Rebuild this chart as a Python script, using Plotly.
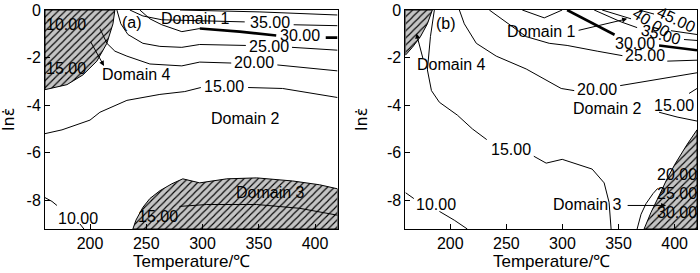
import plotly.graph_objects as go

FONT = "Arial, Liberation Sans, sans-serif"
T_RANGE = [160, 420]
LNE_RANGE = [-9.21, 0.0005]
x_ticks = [200, 250, 300, 350, 400]
y_ticks = [0, -2, -4, -6, -8]
y_tick_text = ["0", "-2", "-4", "-6", "-8"]

# ---------------- panel (a) ----------------
a40_T = [280, 351, 420];                              a40_y = [0, -0.08, -0.21]
a35_T1 = [235.4, 247, 263.8, 297.5, 337.5];           a35_y1 = [0, -0.25, -0.41, -0.45, -0.50]
a35_T2 = [381, 420];                                  a35_y2 = [-0.62, -0.66]
a30_T1 = [244.3, 253.2, 263.8, 281.6, 297.5];         a30_y1 = [0, -0.37, -0.62, -0.91, -0.78]
a30_T2 = [297.5, 333.0, 365.5];                       a30_y2 = [-0.78, -0.91, -1.07]
a30_T3 = [409.5, 420];                                a30_y3 = [-1.16, -1.16]
a25_T1 = [223.9, 227.4, 233.7, 247.0, 262.1, 281.6, 297.5, 338.5]
a25_y1 = [0, -0.58, -1.03, -1.40, -1.53, -1.57, -1.45, -1.49]
a25_T2 = [379.5, 420];                                a25_y2 = [-1.57, -1.69]
a20_T1 = [208.8, 215, 222.1, 232.8, 253.2, 281.6, 297.5, 325.5]
a20_y1 = [-0.78, -1.40, -1.73, -1.94, -2.27, -2.35, -2.19, -2.23]
a20_T2 = [366.5, 420];                                a20_y2 = [-2.31, -2.56]
a15_T1 = [160, 175.1, 200.0, 208.8, 232.8, 262.1, 284.2, 298.5]
a15_y1 = [-5.20, -5.04, -4.63, -4.30, -3.80, -3.55, -3.43, -3.26]
a15_T2 = [340.5, 371.2, 420];                         a15_y2 = [-3.26, -3.30, -3.68]
a10_T1 = [160, 166.2, 170.6];                         a10_y1 = [-7.89, -8.05, -8.22]
a10_T2 = [191.1, 194.6];                              a10_y2 = [-9.0, -9.21]
a15b_T = [279.5, 303.8, 348.1, 386.3, 420];           a15b_y = [-8.26, -8.18, -8.18, -8.34, -8.63]

a_d4_T = [160, 160, 179.5, 193.7, 206.1, 215.0, 220.4, 222.1, 160]
a_d4_y = [0, -3.35, -3.14, -2.73, -2.15, -1.40, -0.58, 0, 0]
a_d3_T = [238.1, 240.8, 247.0, 253.2, 262.1, 272.7, 282.5, 290.5, 297.5, 321.5, 348.1, 380.1, 404.0, 420, 420, 238.1]
a_d3_y = [-9.21, -8.84, -8.30, -7.93, -7.60, -7.31, -7.10, -7.19, -7.27, -7.10, -7.06, -7.19, -7.35, -7.52, -9.21, -9.21]

a_labels = [
    ("(a)", 237.2, -0.54, 0), ("Domain 1", 294.0, -0.37, 0), ("Domain 4", 241.6, -2.73, 0),
    ("Domain 2", 338.4, -4.58, 0), ("Domain 3", 360.6, -7.68, 0),
    ("10.00", 178.6, -0.62, 0), ("15.00", 178.6, -2.48, 0),
    ("35.00", 359.7, -0.54, 0), ("30.00", 386.3, -1.07, 0), ("25.00", 358.8, -1.53, 0),
    ("20.00", 345.5, -2.19, 0), ("15.00", 318.9, -3.22, 0), ("10.00", 189.3, -8.76, 0),
    ("15.00", 260.3, -8.67, 0),
]
a_arrows = [((199.9, -1.28), (212.4, -2.35))]

# ---------------- panel (b) ----------------
b45_T = [368.4, 381.7];                               b45_y = [0, -0.17]
b40_T1 = [335.4, 361.2];                              b40_y1 = [0, -0.37]
b40_T2 = [396.8, 420];                                b40_y2 = [-0.87, -1.03]
b35_T1 = [328.3, 352.3, 366.6];                       b35_y1 = [0, -0.50, -0.74]
b35_T2 = [408.4, 420];                                b35_y2 = [-1.24, -1.28]
b30v_T = [264.2, 283.8, 299.8];                       b30v_y = [0, -0.33, 0]
b30_T1 = [304.2, 346.5];                              b30_y1 = [0, -1.04]
b30_T2 = [386.2, 420];                                b30_y2 = [-1.49, -1.69]
b25_T1 = [234.8, 249.9, 267.7, 288.2, 304.2, 331.0, 353.5]
b25_y1 = [0, -0.50, -1.12, -1.40, -1.49, -1.73, -1.92]
b25_T2 = [393.5, 420];                                b25_y2 = [-2.15, -2.11]
b20_T1 = [208.1, 212.5, 223.2, 241.0, 267.7, 288.2, 298.9, 310.5]
b20_y1 = [0, -0.58, -1.40, -1.94, -2.48, -3.01, -3.30, -3.39]
b20_T2 = [351.5, 420];                                b20_y2 = [-3.18, -2.64]
b15_T1 = [185.8, 182.3, 179.6, 183.2, 190.3, 206.3, 219.7, 232.5]
b15_y1 = [0, -1.12, -2.52, -3.39, -3.88, -4.42, -5.0, -5.45]
b15_T2 = [274.5, 285.5, 299.8, 326.5, 337.2, 341.6, 343.4]
b15_y2 = [-6.15, -6.44, -6.28, -6.69, -7.27, -8.09, -9.21]
b15r_T1 = [420, 412.9];                               b15r_y1 = [-3.30, -3.51]
b15r_T2 = [386.2, 402.2, 420];                        b15r_y2 = [-4.30, -4.50, -4.67]
b10_T1 = [160, 167.5];                                b10_y1 = [-7.68, -7.93]
b10_T2 = [190.3, 203.6, 215.2];                       b10_y2 = [-8.47, -8.84, -9.21]
b20r_T = [366.6, 370.1, 374.6, 380.8, 385.0];         b20r_y = [-9.21, -8.59, -8.14, -7.72, -7.50]

b_d4_T = [160, 184.0, 179.6, 173.4, 166.2, 160, 160]
b_d4_y = [0, 0, -0.58, -1.12, -1.57, -1.90, 0]
b_d3_T = [372.8, 379.0, 386.2, 393.3, 400.4, 411.1, 420, 420, 372.8]
b_d3_y = [-9.21, -8.51, -7.81, -7.10, -6.48, -5.66, -5.04, -9.21, -9.21]

b_labels = [
    ("(b)", 196.5, -0.58, 0), ("Domain 1", 281.1, -0.91, 0), ("Domain 4", 201.0, -2.31, 0),
    ("Domain 2", 339.9, -4.13, 0), ("Domain 3", 322.1, -8.18, 0),
    ("45.00", 401.3, -0.41, 25), ("40.00", 379.0, -0.54, 32), ("35.00", 387.9, -1.03, 15),
    ("30.00", 364.8, -1.40, 0), ("25.00", 373.7, -1.90, 0), ("20.00", 331.0, -3.35, 0),
    ("15.00", 399.5, -4.00, 0), ("15.00", 254.4, -5.86, 0), ("10.00", 187.6, -8.18, 0),
    ("20.00", 402.2, -6.90, 0), ("25.00", 402.2, -7.72, 0), ("30.00", 402.2, -8.51, 0),
]
b_arrows = [((176.0, -2.11), (169.8, -0.99)), ((313.1, -0.87), (357.7, -0.37)),
            ((356.8, -8.22), (392.4, -8.22))]

a_lines = [(a40_T, a40_y, 1), (a35_T1, a35_y1, 1), (a35_T2, a35_y2, 1), (a30_T1, a30_y1, 1),
           (a30_T2, a30_y2, 2.6), (a30_T3, a30_y3, 2.6), (a25_T1, a25_y1, 1), (a25_T2, a25_y2, 1),
           (a20_T1, a20_y1, 1), (a20_T2, a20_y2, 1), (a15_T1, a15_y1, 1), (a15_T2, a15_y2, 1),
           (a10_T1, a10_y1, 1), (a10_T2, a10_y2, 1), (a15b_T, a15b_y, 1)]
b_lines = [(b45_T, b45_y, 1), (b40_T1, b40_y1, 1), (b40_T2, b40_y2, 1), (b35_T1, b35_y1, 1),
           (b35_T2, b35_y2, 1), (b30v_T, b30v_y, 1), (b30_T1, b30_y1, 2.6), (b30_T2, b30_y2, 2.6),
           (b25_T1, b25_y1, 1), (b25_T2, b25_y2, 1), (b20_T1, b20_y1, 1), (b20_T2, b20_y2, 1),
           (b15_T1, b15_y1, 1), (b15_T2, b15_y2, 1), (b15r_T1, b15r_y1, 1), (b15r_T2, b15r_y2, 1),
           (b10_T1, b10_y1, 1), (b10_T2, b10_y2, 1), (b20r_T, b20r_y, 1)]

fig = go.Figure()
pattern = dict(shape="/", bgcolor="#c4c4c4", fgcolor="black", size=5, solidity=0.22, fillmode="replace")

for xa, ya, hatches, lines in [("x", "y", [(a_d4_T, a_d4_y), (a_d3_T, a_d3_y)], a_lines),
                               ("x2", "y2", [(b_d4_T, b_d4_y), (b_d3_T, b_d3_y)], b_lines)]:
    for hx, hy in hatches:
        fig.add_trace(go.Scatter(x=hx, y=hy, mode="lines", fill="toself", fillcolor="#c4c4c4",
                                 fillpattern=pattern, line=dict(color="black", width=1),
                                 xaxis=xa, yaxis=ya, showlegend=False, hoverinfo="skip"))
    for lx, ly, w in lines:
        fig.add_trace(go.Scatter(x=lx, y=ly, mode="lines", line=dict(color="black", width=w),
                                 xaxis=xa, yaxis=ya, showlegend=False, hoverinfo="skip"))

ann = []
for xa, ya, labels, arrows in [("x", "y", a_labels, a_arrows), ("x2", "y2", b_labels, b_arrows)]:
    for txt, tx, ty, ang in labels:
        ann.append(dict(text=txt, x=tx, y=ty, xref=xa, yref=ya, showarrow=False, textangle=ang,
                        font=dict(family=FONT, size=16, color="black")))
    for (x0, y0), (x1, y1) in arrows:
        ann.append(dict(text="", x=x1, y=y1, ax=x0, ay=y0, xref=xa, yref=ya, axref=xa, ayref=ya,
                        showarrow=True, arrowhead=2, arrowsize=1, arrowwidth=1, arrowcolor="black"))
    dom = "x domain" if xa == "x" else "x2 domain"
    ydom = "y domain" if ya == "y" else "y2 domain"
    ann.append(dict(text="Temperature/℃", x=0.5, y=-0.148, xref=dom, yref=ydom, showarrow=False,
                    yanchor="middle", font=dict(family=FONT, size=17, color="black")))
    ann.append(dict(text="ln\u03b5\u0307", x=(-0.125 if xa == "x" else -0.151), y=0.5, xref=dom,
                    yref=ydom, showarrow=False, textangle=-90, xanchor="center",
                    font=dict(family="DejaVu Sans, Arial", size=16, color="black")))

axis_common = dict(range=T_RANGE, tickvals=x_ticks, ticks="inside", ticklen=5, showline=True,
                   linecolor="black", linewidth=1, mirror=True, showgrid=False, zeroline=False,
                   ticklabeloverflow="allow",
                   tickfont=dict(family=FONT, size=16, color="black"), tickcolor="black")
yaxis_common = dict(range=LNE_RANGE, tickvals=y_ticks, ticktext=y_tick_text, ticks="inside", ticklen=5,
                    showline=True, linecolor="black", linewidth=1, mirror=True, showgrid=False,
                    zeroline=False, ticklabeloverflow="allow",
                    tickfont=dict(family=FONT, size=16, color="black"), tickcolor="black")

fig.update_layout(
    width=700, height=273, margin=dict(l=45, r=2, t=6, b=44),
    paper_bgcolor="white", plot_bgcolor="white", showlegend=False,
    xaxis=dict(domain=[0, 0.4487], anchor="y", **axis_common),
    xaxis2=dict(domain=[0.5528, 1], anchor="y2", **axis_common),
    yaxis=dict(domain=[0, 1], anchor="x", **yaxis_common),
    yaxis2=dict(domain=[0, 1], anchor="x2", **yaxis_common),
    annotations=ann,
)
fig.write_html("out.html", config={"displayModeBar": False},
               post_script="document.body.style.margin='0px';document.body.style.overflow='hidden';")
